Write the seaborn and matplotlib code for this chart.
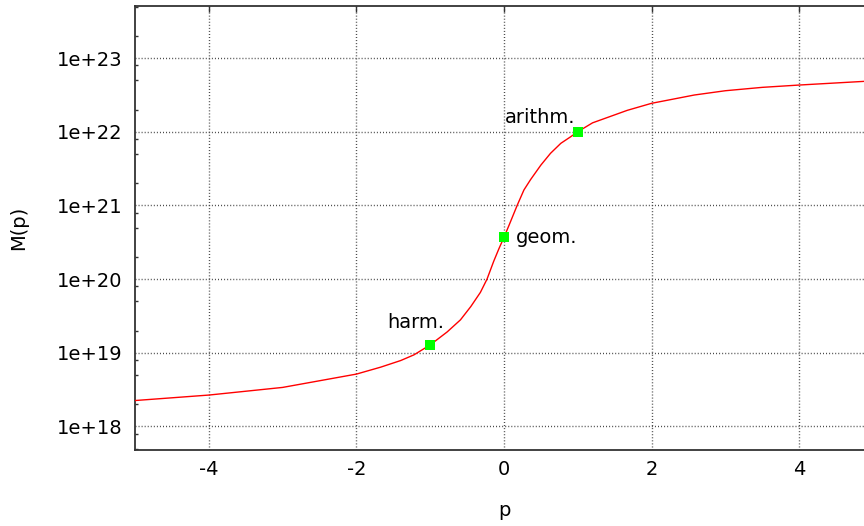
import seaborn as sns
import matplotlib.pyplot as plt
import matplotlib.ticker as mticker
import pandas as pd

# power mean M(p)
p_vals = [-5, -4, -3, -2, -1.67, -1.4, -1.22, -1,
          -0.77, -0.59, -0.45, -0.32, -0.23, -0.14, -0.07,
          0, 0.07, 0.18, 0.27, 0.36, 0.5, 0.63, 0.77, 0.9, 1,
          1.2, 1.67, 2, 2.58, 3, 3.5, 4, 4.4, 5]
m_vals = [2.25e18, 2.67e18, 3.39e18, 5.14e18, 6.39e18, 7.85e18, 9.38e18, 1.28e19,
          1.92e19, 2.80e19, 4.24e19, 6.6e19, 1.0e20, 1.74e20, 2.57e20,
          3.7e20, 5.43e20, 1.01e21, 1.62e21, 2.24e21, 3.53e21, 5.09e21, 6.96e21, 8.5e21, 1.0e22,
          1.32e22, 1.95e22, 2.43e22, 3.15e22, 3.60e22, 4.0e22, 4.30e22, 4.53e22, 4.9e22]

# the three classical means
mean_names = ["harm.", "geom.", "arithm."]
mean_p = [-1, 0, 1]
mean_m = [1.28e19, 3.7e20, 1.0e22]

x_ticks = [-4, -2, 0, 2, 4]
x_tick_labels = ["-4", "-2", "0", "2", "4"]
y_ticks = [1e18, 1e19, 1e20, 1e21, 1e22, 1e23]
y_tick_labels = ["1e+18", "1e+19", "1e+20", "1e+21", "1e+22", "1e+23"]

curve = pd.DataFrame({"p": p_vals, "M": m_vals})
means = pd.DataFrame({"p": mean_p, "M": mean_m, "name": mean_names})

sns.set_style("white")
plt.rcParams['font.family'] = ['DejaVu Sans']
plt.rcParams['font.size'] = 14
plt.rcParams['text.color'] = 'black'
plt.rcParams['axes.labelcolor'] = 'black'
plt.rcParams['xtick.color'] = 'black'
plt.rcParams['ytick.color'] = 'black'

fig = plt.figure(figsize=(8.64, 5.26), dpi=100)
ax = fig.add_axes([135 / 864, 76 / 526, 738 / 864, 444 / 526])

sns.lineplot(ax=ax, data=curve, x="p", y="M", color="red", linewidth=1.0,
             estimator=None, sort=False, zorder=3)
sns.scatterplot(ax=ax, data=means, x="p", y="M", color="#00ff00", marker="s",
                s=55, edgecolor="none", zorder=4)

# label offsets in points (gnuplot-style label placement)
offsets = {"harm.": ((10, 12), "right", "baseline"),
           "geom.": ((8.5, -4.5), "left", "baseline"),
           "arithm.": ((-1.5, 6), "right", "baseline")}
for _, row in means.iterrows():
    off, ha, va = offsets[row["name"]]
    ax.annotate(row["name"], (row["p"], row["M"]), xytext=off,
                textcoords="offset points", ha=ha, va=va, fontsize=14, color="black")

ax.set_yscale("log")
ax.set_xlim(-5, 5)
ax.set_ylim(10 ** 17.681, 10 ** 23.706)

ax.set_xticks(x_ticks)
ax.set_xticklabels(x_tick_labels)
ax.set_yticks(y_ticks)
ax.set_yticklabels(y_tick_labels)
ax.yaxis.set_minor_locator(mticker.LogLocator(base=10, subs=[2, 5, 8]))
ax.yaxis.set_minor_formatter(mticker.NullFormatter())
ax.xaxis.set_minor_locator(mticker.NullLocator())

ax.tick_params(which="major", direction="in", length=4, width=1, color="#333333",
               top=True, right=True, labelsize=14, labelcolor="black")
ax.tick_params(which="minor", direction="in", length=2.5, width=1, color="#333333",
               left=True, right=True)
ax.tick_params(axis="y", pad=9)
ax.tick_params(axis="x", pad=7)

ax.grid(True, which="major", color="#444444", linestyle=(0, (0.7, 1.5)), linewidth=1)
for sp in ax.spines.values():
    sp.set_color("#333333")
    sp.set_linewidth(1.3)

ax.set_xlabel("p", fontsize=14, labelpad=16)
ax.set_ylabel("M(p)", fontsize=14)
ax.yaxis.set_label_coords(-0.145, 0.5)

plt.savefig("out.png", dpi=100)
plt.close('all')
